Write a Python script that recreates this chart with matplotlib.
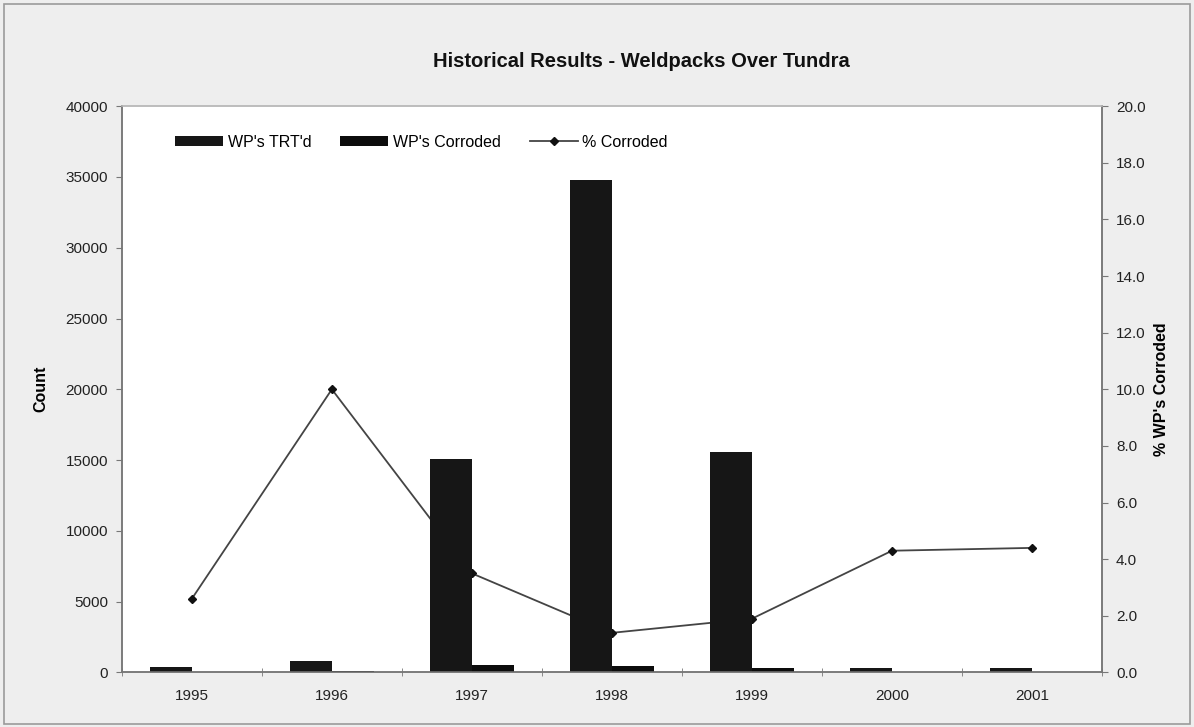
import numpy as np
import matplotlib.pyplot as plt
from matplotlib.patches import Rectangle

plt.rcParams['font.family'] = ['Liberation Sans', 'DejaVu Sans']

# weldpack inspection history
years = ['1995', '1996', '1997', '1998', '1999', '2000', '2001']
wp_treated = [400, 830, 15100, 34750, 15600, 330, 330]
wp_corroded = [10, 85, 540, 450, 300, 15, 15]
pct_corroded = [2.6, 10.0, 3.5, 1.4, 1.9, 4.3, 4.4]

fig = plt.figure(figsize=(11.94, 7.27), dpi=100, facecolor='#eeeeee')
fig.patches.append(Rectangle((0.003, 0.004), 0.994, 0.99, transform=fig.transFigure,
                             fill=False, edgecolor='#9a9a9a', lw=1.2))

ax = fig.add_axes([0.102, 0.075, 0.821, 0.779])
ax2 = ax.twinx()

x = np.arange(len(years))
w = 0.3

# line goes underneath, bars on top
ax2.set_zorder(0)
ax.set_zorder(1)
ax.patch.set_visible(False)
ax2.patch.set_visible(True)
ax2.patch.set_facecolor('white')

b1 = ax.bar(x - w / 2, wp_treated, w, color='#161616', label="WP's TRT'd")
b2 = ax.bar(x + w / 2, wp_corroded, w, color='#0c0c0c', label="WP's Corroded")
ln, = ax2.plot(x, pct_corroded, color='#444444', lw=1.3, marker='D', ms=4,
               mfc='#111111', mec='#111111', label='% Corroded')

ax.set_xlim(-0.5, len(years) - 0.5)
ax.set_ylim(0, 40000)
ax2.set_ylim(0, 20)
ax.set_yticks(np.arange(0, 40001, 5000))
ax2.set_yticks(np.arange(0, 20.1, 2))
ax2.set_yticklabels([f'{v:.1f}' for v in np.arange(0, 20.1, 2)])

ax.set_xticks(x)
ax.set_xticklabels(years)
ax.set_xticks(np.arange(-0.5, len(years)), minor=True)
ax.tick_params(axis='x', which='major', length=0, pad=12, labelsize=11, colors='#222222')
ax.tick_params(axis='x', which='minor', length=6, direction='inout', color='#777777')
ax.tick_params(axis='y', length=4, color='#777777', labelsize=11, labelcolor='#222222', pad=6)
ax2.tick_params(axis='y', length=4, color='#777777', labelsize=11, labelcolor='#222222', pad=6)

for a in (ax, ax2):
    for s in a.spines.values():
        s.set_color('#777777')
        s.set_linewidth(1.1)
ax.spines['top'].set_color('#bbbbbb')
ax2.spines['top'].set_color('#bbbbbb')

ax.set_ylabel('Count', fontsize=11.5, fontweight='bold', labelpad=12)
ax2.set_ylabel("% WP's Corroded", fontsize=11.5, fontweight='bold', labelpad=6)

fig.text(0.537, 0.915, 'Historical Results - Weldpacks Over Tundra', ha='center',
         va='center', fontsize=14.5, fontweight='bold', color='#111111')

ax.legend([b1, b2, ln], ["WP's TRT'd", "WP's Corroded", '% Corroded'],
          loc='upper left', bbox_to_anchor=(0.04, 0.975), ncol=3, frameon=False,
          fontsize=11.5, handlelength=3.0, handleheight=0.55, columnspacing=1.8,
          handletextpad=0.3)

fig.savefig('out.png', dpi=100, facecolor=fig.get_facecolor())
